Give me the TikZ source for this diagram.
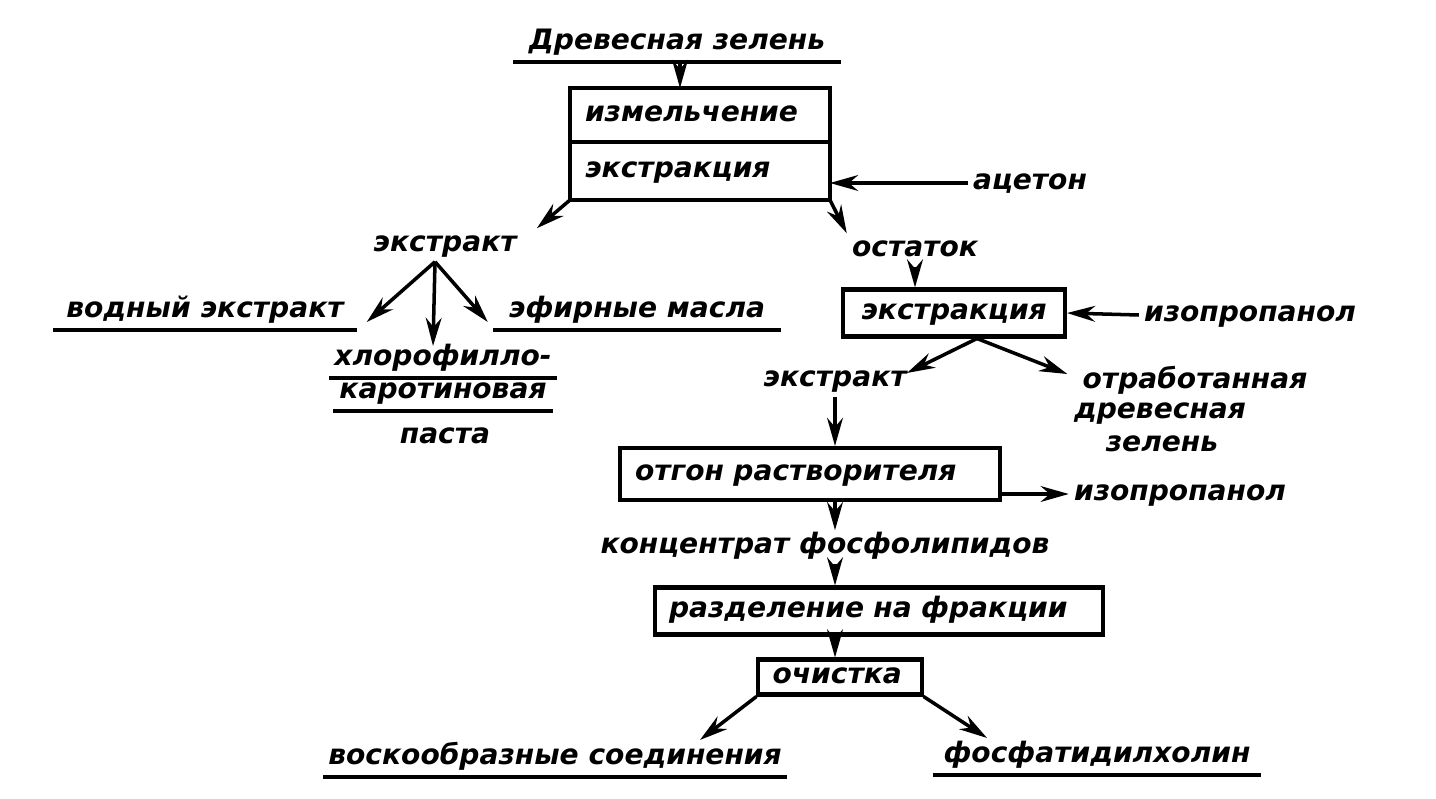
\documentclass[tikz,border=0pt]{standalone}
\usepackage{fontspec}
\setmainfont{DejaVu Sans}
\usetikzlibrary{arrows.meta}

\tikzset{
    lbl/.style={font=\fontsize{16}{19}\selectfont\bfseries\itshape, text height=0.36cm, text depth=0.1cm, inner sep=2pt},
    uline/.style={lbl, inner ysep=3pt, anchor=south},
    procbox/.style={lbl, draw, line width=2.3pt, inner xsep=8pt, align=left},
}

\begin{document}
\begin{tikzpicture}[x=0.02cm, y=-0.02cm, >={Stealth[length=16pt, width=9pt]}, line width=2pt]
    \useasboundingbox (0,0) rectangle (1436,798);

    % raw material and first stage
    \node[uline, minimum width=6.5cm] (src) at (677,62) {Древесная зелень};
    \draw (src.south west) -- (src.south east);

    \node[procbox, outer sep=0pt, minimum width=5.2cm, minimum height=1.08cm, text width=4.6cm] (izm) at (700,115) {измельчение};
    \node[procbox, outer sep=0pt, minimum width=5.2cm, minimum height=1.16cm, text width=4.6cm, anchor=north] (ext1) at (izm.south) {экстракция};
    \draw[->] (src.south -| izm.north) ++(-20,0) coordinate (s1) -- (s1 |- izm.north);

    \node[lbl] (ac) at (1030,183) {ацетон};
    \draw[->] (ac.west) -- (ac.west -| ext1.east);

    % left branch
    \node[lbl] (extL) at (445,245) {экстракт};
    \node[lbl] (ost) at (915,250) {остаток};
    \draw[->] (ext1.south west) -- ([xshift=0.3cm]extL.north east);
    \draw[->] (ext1.south east) -- (ost.north west);

    \node[uline, minimum width=6.0cm] (vod) at (205,330) {водный экстракт};
    \draw (vod.south west) -- (vod.south east);
    \node[uline, minimum width=5.7cm] (efir) at (637,330) {эфирные масла};
    \draw (efir.south west) -- (efir.south east);

    \node[uline, minimum width=4.34cm] (hl1) at (443,378) {хлорофилло-};
    \draw (hl1.south west) -- (hl1.south east);
    \node[uline, minimum width=4.34cm] (hl2) at (443,411) {каротиновая};
    \draw (hl2.south west) -- (hl2.south east);
    \node[lbl] (hl3) at (445,437) {паста};

    \draw[->] ([xshift=-0.2cm]extL.south) -- ([xshift=0.2cm, yshift=0.16cm]vod.south east);
    \draw[->] ([xshift=-0.2cm]extL.south) -- ([xshift=-0.2cm, yshift=-0.1cm]hl1.north);
    \draw[->] ([xshift=-0.2cm]extL.south) -- ([xshift=-0.1cm, yshift=0.16cm]efir.south west);

    % right branch
    \node[procbox, minimum width=4.44cm, minimum height=0.94cm] (ext2) at (954,313) {экстракция};
    \draw[->] (ost.south) -- (ost.south |- ext2.north);
    \node[lbl] (iso1) at (1250,315) {изопропанол};
    \draw[->] (iso1.west) -- (ext2.east);

    \node[lbl] (extR) at (835,380) {экстракт};
    \node[lbl] (sp1) at (1195,382) {отработанная};
    \node[lbl] (sp2) at (1160,412) {древесная};
    \node[lbl] (sp3) at (1162,445) {зелень};
    \draw[->] ([xshift=0.46cm]ext2.south) -- ([xshift=-0.1cm, yshift=0.14cm]extR.east);
    \draw[->] ([xshift=0.46cm]ext2.south) -- ([xshift=-0.2cm, yshift=0.16cm]sp1.west);

    % solvent removal and separation
    \node[procbox, minimum width=7.6cm, minimum height=1.04cm, text width=7.0cm] (otg) at (810,474) {отгон растворителя};
    \draw[->] (extR.south) -- (extR.south |- otg.north);
    \node[lbl] (iso2) at (1180,494) {изопропанол};
    \draw[->] (otg.east |- iso2.west) -- (iso2.west);

    \node[lbl] (conc) at (825,547) {концентрат фосфолипидов};
    \draw[->] (extR.south |- otg.south) -- (extR.south |- conc.north);

    \node[procbox, minimum width=8.96cm, minimum height=0.94cm, text width=8.4cm] (sep) at (879,611) {разделение на фракции};
    \draw[->] (extR.south |- conc.south) -- (extR.south |- sep.north);

    \node[procbox, minimum width=3.2cm, minimum height=0.7cm, text width=2.7cm] (och) at (840,677) {очистка};
    \draw[->] (extR.south |- sep.south) -- (extR.south |- och.north);

    % products
    \node[uline, minimum width=9.0cm] (vosk) at (555,777) {воскообразные соединения};
    \draw (vosk.south west) -- (vosk.south east);
    \node[uline, minimum width=6.5cm] (fosf) at (1097,775) {фосфатидилхолин};
    \draw (fosf.south west) -- (fosf.south east);

    \draw[->] (och.south west) -- ([xshift=2.9cm]vosk.north);
    \draw[->] (och.south east) -- ([xshift=-2.2cm]fosf.north);
\end{tikzpicture}
\end{document}
